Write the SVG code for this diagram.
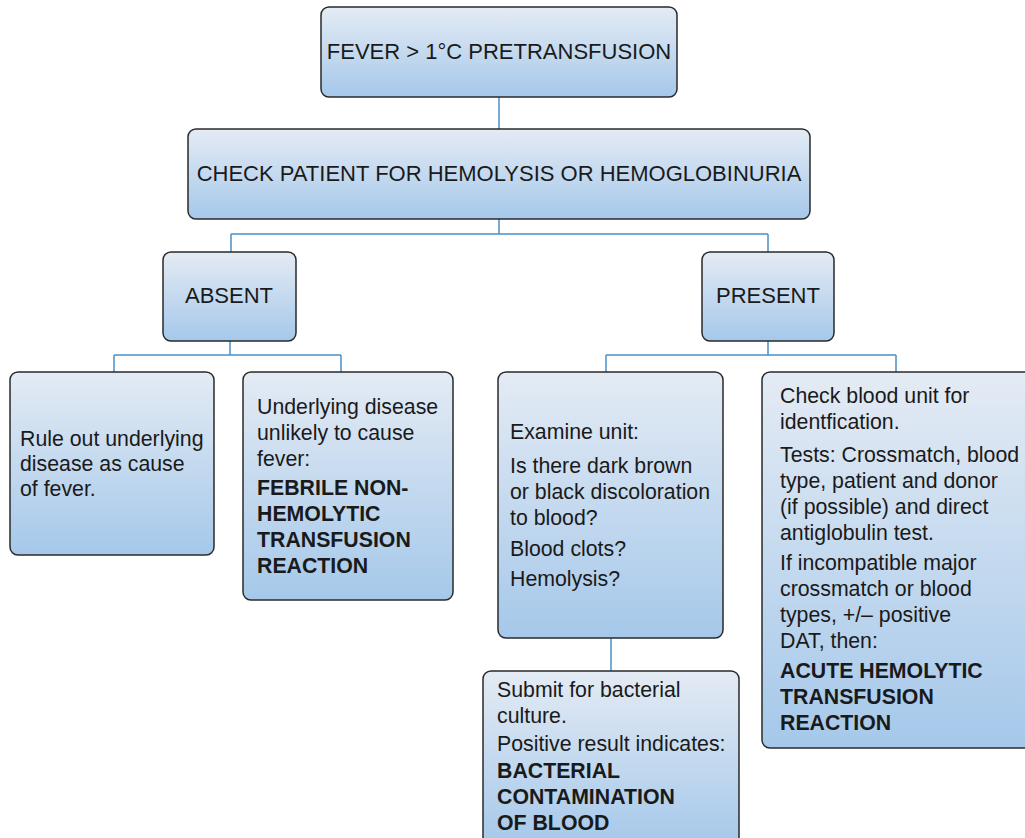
<svg xmlns="http://www.w3.org/2000/svg" width="1025" height="838" viewBox="0 0 1025 838">
<defs>
<linearGradient id="g" x1="0" y1="0" x2="0" y2="1">
<stop offset="0" stop-color="#e4ebf4"/>
<stop offset="1" stop-color="#a5c8ea"/>
</linearGradient>
<style>
.box{fill:url(#g);stroke:#2a2a2a;stroke-width:1.5}
.t{font-family:"Liberation Sans",Arial,sans-serif;font-size:21.3px;fill:#1a1a1a}
.h{font-size:22px}
.c{text-anchor:middle}
.b{font-weight:bold}
.conn{fill:none;stroke:#4a90c8;stroke-width:1.5}
</style>
</defs>
<rect width="1025" height="838" fill="#ffffff"/>
<g id="connectors">
<path class="conn" d="M499,97 V129"/>
<path class="conn" d="M499,219 V234 M231,234 H768 M231,234 V252 M768,234 V252"/>
<path class="conn" d="M230,341 V355 M114,355 H341 M114,355 V372 M341,355 V372"/>
<path class="conn" d="M768,341 V355 M606,355 H896 M606,355 V372 M896,355 V372"/>
<path class="conn" d="M611,638 V671"/>
</g>
<g id="n1">
<rect class="box" x="321" y="7" width="356" height="90" rx="8"/>
<text class="t h c" x="499" y="59">FEVER &gt; 1°C PRETRANSFUSION</text>
</g>
<g id="n2">
<rect class="box" x="188" y="129" width="622" height="90" rx="8"/>
<text class="t h c" x="499" y="181">CHECK PATIENT FOR HEMOLYSIS OR HEMOGLOBINURIA</text>
</g>
<g id="absent">
<rect class="box" x="163" y="252" width="133" height="89" rx="8"/>
<text class="t h c" x="229" y="303">ABSENT</text>
</g>
<g id="present">
<rect class="box" x="702" y="252" width="132" height="89" rx="8"/>
<text class="t h c" x="768" y="303">PRESENT</text>
</g>
<g id="ruleout">
<rect class="box" x="10" y="372" width="204" height="183" rx="8"/>
<text class="t" x="20" y="446">Rule out underlying</text>
<text class="t" x="20" y="471">disease as cause</text>
<text class="t" x="20" y="496">of fever.</text>
</g>
<g id="underlying">
<rect class="box" x="243" y="372" width="210" height="228" rx="8"/>
<text class="t" x="257" y="414">Underlying disease</text>
<text class="t" x="257" y="440">unlikely to cause</text>
<text class="t" x="257" y="466">fever:</text>
<text class="t b" x="257" y="495">FEBRILE NON-</text>
<text class="t b" x="257" y="521">HEMOLYTIC</text>
<text class="t b" x="257" y="547">TRANSFUSION</text>
<text class="t b" x="257" y="573">REACTION</text>
</g>
<g id="examine">
<rect class="box" x="498" y="372" width="225" height="266" rx="8"/>
<text class="t" x="510" y="439">Examine unit:</text>
<text class="t" x="510" y="473">Is there dark brown</text>
<text class="t" x="510" y="499">or black discoloration</text>
<text class="t" x="510" y="525">to blood?</text>
<text class="t" x="510" y="556">Blood clots?</text>
<text class="t" x="510" y="586">Hemolysis?</text>
</g>
<g id="checkunit">
<rect class="box" x="762" y="372" width="275" height="376" rx="8"/>
<text class="t" x="780" y="403">Check blood unit for</text>
<text class="t" x="780" y="429">identfication.</text>
<text class="t" x="780" y="462">Tests: Crossmatch, blood</text>
<text class="t" x="780" y="488">type, patient and donor</text>
<text class="t" x="780" y="514">(if possible) and direct</text>
<text class="t" x="780" y="540">antiglobulin test.</text>
<text class="t" x="780" y="570">If incompatible major</text>
<text class="t" x="780" y="596">crossmatch or blood</text>
<text class="t" x="780" y="622">types, +/– positive</text>
<text class="t" x="780" y="648">DAT, then:</text>
<text class="t b" x="780" y="678">ACUTE HEMOLYTIC</text>
<text class="t b" x="780" y="704">TRANSFUSION</text>
<text class="t b" x="780" y="730">REACTION</text>
</g>
<g id="submit">
<rect class="box" x="483" y="671" width="256" height="175" rx="8"/>
<text class="t" x="497" y="697">Submit for bacterial</text>
<text class="t" x="497" y="723">culture.</text>
<text class="t" x="497" y="751">Positive result indicates:</text>
<text class="t b" x="497" y="778">BACTERIAL</text>
<text class="t b" x="497" y="804">CONTAMINATION</text>
<text class="t b" x="497" y="830">OF BLOOD</text>
</g>
</svg>
